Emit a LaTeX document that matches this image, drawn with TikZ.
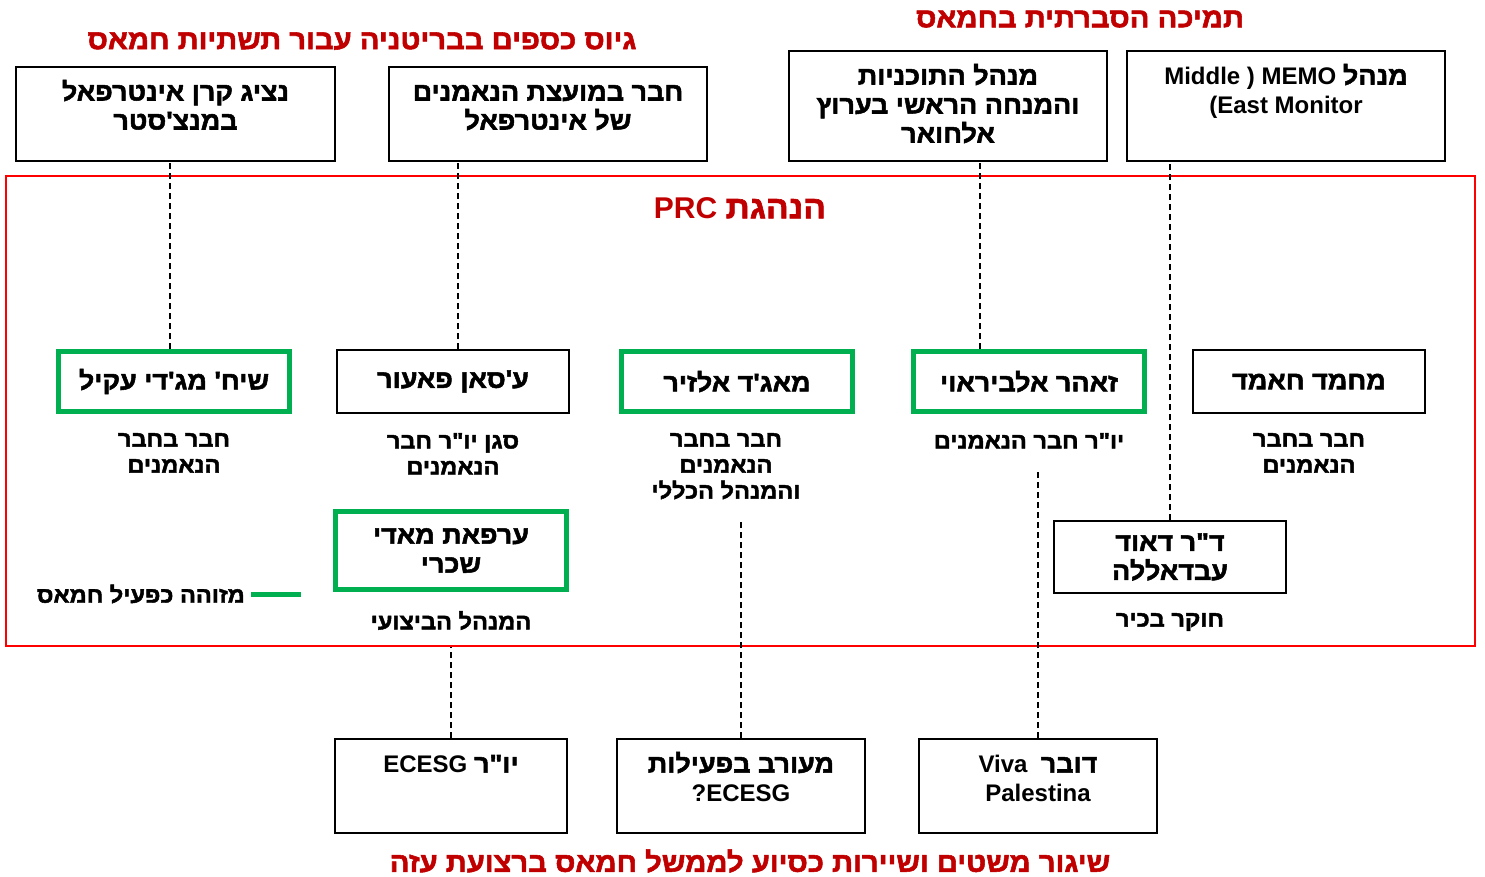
\documentclass[tikz,border=0pt]{standalone}
\usepackage{fontspec}
\setmainfont{Liberation Sans}
\newfontfamily\hebfont[Script=Hebrew, Scale=1.06, FakeStretch=1.06, BoldFeatures={FakeBold=2}]{Liberation Sans}
\TeXXeTstate=1
\usetikzlibrary{positioning}
\definecolor{hamasgreen}{RGB}{0,176,80}
\definecolor{titlered}{RGB}{192,0,0}
\newcommand{\rl}[1]{{\hebfont\beginR #1\endR}}

\tikzset{
    person/.style={draw, line width=2pt, minimum width=232pt, minimum height=63pt, align=center, font=\bfseries\fontsize{24}{29}\selectfont},
    hamas/.style={person, draw=hamasgreen, line width=5pt, minimum width=231pt, minimum height=60pt},
    topbox/.style={draw, line width=2pt, inner sep=0pt, align=center, font=\bfseries\fontsize{24}{29}\selectfont},
    role/.style={align=center, inner sep=0pt, font=\bfseries\fontsize{21}{26}\selectfont},
    title/.style={text=titlered, inner sep=0pt, font=\bfseries\fontsize{26}{30}\selectfont},
    link/.style={dash pattern=on 6pt off 4pt, line width=1.5pt}
}

\begin{document}
\begin{tikzpicture}[x=1pt, y=-1pt]
    \useasboundingbox (0,0) rectangle (1485,877);

    % PRC frame
    \node[draw=red, line width=2.5pt, inner sep=0pt, minimum width=1469pt, minimum height=470pt] (prc) at (740.5,411) {};
    \node[title, font=\bfseries\fontsize{30}{34}\selectfont] (prctitle) at (740,208) {PRC \rl{הנהגת}};

    % titles
    \node[title] (fundraising) at (362,41) {\rl{גיוס כספים בבריטניה עבור תשתיות חמאס}};
    \node[title] (propaganda) at (1080,19) {\rl{תמיכה הסברתית בחמאס}};
    \node[title] (flotillas) at (750,861) {\rl{שיגור משטים ושיירות כסיוע לממשל חמאס ברצועת עזה}};

    % top row
    \node[topbox, minimum width=319pt, text height=62.5pt, text depth=31.5pt] (interpal) at (175.5,114) {\rl{נציג קרן אינטרפאל}\\\rl{במנצ'סטר}};
    \node[topbox, minimum width=318pt, text height=62.5pt, text depth=31.5pt] (trustees) at (548,114) {\rl{חבר במועצת הנאמנים}\\\rl{של אינטרפאל}};
    \node[topbox, minimum width=318pt, text height=91.5pt, text depth=18.5pt] (alhiwar) at (948,106) {\rl{מנהל התוכניות}\\\rl{והמנחה הראשי בערוץ}\\\rl{אלחואר}};
    \node[topbox, minimum width=318pt, text height=62.5pt, text depth=47.5pt] (memo) at (1286,106) {Middle ) MEMO \rl{מנהל}\\(East Monitor};

    % PRC leadership
    \node[hamas] (aqil) at (174,381.5) {\rl{שיח' מג'די עקיל}};
    \node[person] (faour) at (453,381.5) {\rl{ע'סאן פאעור}};
    \node[hamas] (alzir) at (737,381.5) {\rl{מאג'ד אלזיר}};
    \node[hamas] (albirawi) at (1029,381.5) {\rl{זאהר אלביראוי}};
    \node[person] (hamed) at (1309,381.5) {\rl{מחמד חאמד}};
    \node[hamas, minimum height=78pt] (shakri) at (451,550.5) {\rl{ערפאת מאדי}\\\rl{שכרי}};
    \node[person, minimum height=72pt] (abdallah) at (1170,557) {\rl{ד"ר דאוד}\\\rl{עבדאללה}};

    \node[role, below=19pt of aqil] (aqilrole) {\rl{חבר בחבר}\\\rl{הנאמנים}};
    \node[role, below=19pt of faour] (faourrole) {\rl{סגן יו"ר חבר}\\\rl{הנאמנים}};
    \node[role, below=19pt of alzir, xshift=-11pt] (alzirrole) {\rl{חבר בחבר}\\\rl{הנאמנים}\\\rl{והמנהל הכללי}};
    \node[role, below=19pt of albirawi] (albirawirole) {\rl{יו"ר חבר הנאמנים}};
    \node[role, below=19pt of hamed] (hamedrole) {\rl{חבר בחבר}\\\rl{הנאמנים}};
    \node[role, below=19pt of shakri] (shakrirole) {\rl{המנהל הביצועי}};
    \node[role, below=19pt of abdallah] (abdallahrole) {\rl{חוקר בכיר}};

    % legend
    \node[role, anchor=east] (legend) at (245,594) {\rl{מזוהה כפעיל חמאס}};
    \draw[hamasgreen, line width=5pt] ([xshift=6pt]legend.east) -- ++(50,0);

    % bottom row
    \node[topbox, minimum width=232pt, text height=33.5pt, text depth=60.5pt] (ecesgchair) at (451,786) {ECESG \rl{יו"ר}};
    \node[topbox, minimum width=248pt, text height=62.5pt, text depth=31.5pt] (ecesg) at (741,786) {\rl{מעורב בפעילות}\\?ECESG};
    \node[topbox, minimum width=238pt, text height=62.5pt, text depth=31.5pt] (viva) at (1038,786) {Viva\ \ \rl{דובר}\\Palestina};

    % links
    \draw[link] ([xshift=-4pt]aqil.north) -- ([xshift=-4pt]aqil.north |- interpal.south);
    \draw[link] ([xshift=5pt]faour.north) -- ([xshift=5pt]faour.north |- trustees.south);
    \draw[link] ([xshift=-49pt]albirawi.north) -- ([xshift=-49pt]albirawi.north |- alhiwar.south);
    \draw[link] (abdallah.north) -- (abdallah.north |- memo.south);
    \draw[link] (ecesgchair.north) -- (ecesgchair.north |- prc.south);
    \draw[link] (ecesg.north) -- ([yshift=-20pt]ecesg.north |- alzirrole.south);
    \draw[link] (viva.north) -- ([yshift=-20pt]viva.north |- albirawirole.south);
\end{tikzpicture}
\end{document}
